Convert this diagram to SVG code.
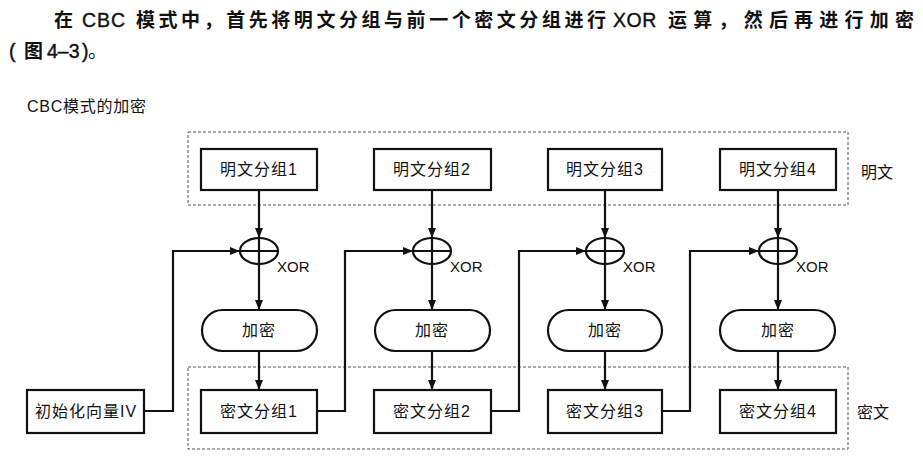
<svg xmlns="http://www.w3.org/2000/svg" width="923" height="462" viewBox="0 0 923 462">
<defs>
<style>
.t{font-family:"Liberation Sans","Noto Sans CJK SC",sans-serif;fill:#111}
.title{font-family:"Liberation Sans","Noto Sans CJK SC",sans-serif;font-size:19px;font-weight:bold;fill:#111}
.lat{font-weight:normal;font-size:19.5px;stroke:#111;stroke-width:0.4}
.box{fill:#fff;stroke:#111;stroke-width:2.2}
.lbl{font-family:"Liberation Sans","Noto Sans CJK SC",sans-serif;font-size:16px;fill:#111;text-anchor:middle;letter-spacing:1px}
.dash{fill:none;stroke:#555;stroke-width:1;stroke-dasharray:3 2}
.ln{fill:none;stroke:#111;stroke-width:2.2}
.xor{font-family:"Liberation Sans",sans-serif;font-size:15px;fill:#111}
</style>
<marker id="ah" viewBox="0 0 10 10" refX="10" refY="5" markerWidth="10" markerHeight="10" markerUnits="userSpaceOnUse" orient="auto">
<path d="M0,1 L10,5 L0,9 Z" fill="#111"/>
</marker>
</defs>
<rect width="923" height="462" fill="#fff"/>
<text class="title" y="27"><tspan x="54">在</tspan><tspan x="82" class="lat" letter-spacing="1">CBC</tspan><tspan x="136" textLength="470" lengthAdjust="spacing">模式中，首先将明文分组与前一个密文分组进行</tspan><tspan x="613" class="lat" letter-spacing="0.5">XOR</tspan><tspan x="668" textLength="246" lengthAdjust="spacing">运算，然后再进行加密</tspan></text>
<text class="title" y="58"><tspan x="9" class="lat">(</tspan><tspan x="24">图</tspan><tspan x="47" class="lat">4–3</tspan><tspan x="82" class="lat">)</tspan><tspan x="88" font-weight="normal">。</tspan></text>
<text class="t" x="27" y="112" font-size="16" textLength="119" lengthAdjust="spacing">CBC模式的加密</text>

<rect class="dash" x="188" y="132" width="660" height="73"/>
<rect class="dash" x="188" y="367" width="660" height="82"/>
<text class="t" x="861" y="178" font-size="16">明文</text>
<text class="t" x="857" y="418" font-size="16">密文</text>

<g id="connectors">
<line class="ln" x1="259" y1="190" x2="259" y2="238" marker-end="url(#ah)"/>
<line class="ln" x1="432" y1="190" x2="432" y2="238" marker-end="url(#ah)"/>
<line class="ln" x1="605" y1="190" x2="605" y2="238" marker-end="url(#ah)"/>
<line class="ln" x1="778" y1="190" x2="778" y2="238" marker-end="url(#ah)"/>
<line class="ln" x1="259" y1="264" x2="259" y2="310" marker-end="url(#ah)"/>
<line class="ln" x1="432" y1="264" x2="432" y2="310" marker-end="url(#ah)"/>
<line class="ln" x1="605" y1="264" x2="605" y2="310" marker-end="url(#ah)"/>
<line class="ln" x1="778" y1="264" x2="778" y2="310" marker-end="url(#ah)"/>
<line class="ln" x1="259" y1="351" x2="259" y2="390" marker-end="url(#ah)"/>
<line class="ln" x1="432" y1="351" x2="432" y2="390" marker-end="url(#ah)"/>
<line class="ln" x1="605" y1="351" x2="605" y2="390" marker-end="url(#ah)"/>
<line class="ln" x1="778" y1="351" x2="778" y2="390" marker-end="url(#ah)"/>
<polyline class="ln" points="144,411 173,411 173,251 240,251" marker-end="url(#ah)"/>
<polyline class="ln" points="317,411 345,411 345,251 413,251" marker-end="url(#ah)"/>
<polyline class="ln" points="491,411 519,411 519,251 586,251" marker-end="url(#ah)"/>
<polyline class="ln" points="662,411 690,411 690,251 759,251" marker-end="url(#ah)"/>
</g>

<g id="p1"><rect class="box" x="201" y="149" width="116" height="41"/><text class="lbl" x="259" y="175">明文分组1</text></g>
<g id="p2"><rect class="box" x="374" y="149" width="117" height="41"/><text class="lbl" x="432" y="175">明文分组2</text></g>
<g id="p3"><rect class="box" x="548" y="149" width="114" height="41"/><text class="lbl" x="605" y="175">明文分组3</text></g>
<g id="p4"><rect class="box" x="720" y="149" width="116" height="41"/><text class="lbl" x="778" y="175">明文分组4</text></g>

<g id="x1"><ellipse class="ln" cx="259" cy="251" rx="19" ry="13"/><line class="ln" x1="240" y1="251" x2="278" y2="251"/><line class="ln" x1="259" y1="238" x2="259" y2="264"/><text class="xor" x="277" y="272">XOR</text></g>
<g id="x2"><ellipse class="ln" cx="432" cy="251" rx="19" ry="13"/><line class="ln" x1="413" y1="251" x2="451" y2="251"/><line class="ln" x1="432" y1="238" x2="432" y2="264"/><text class="xor" x="450" y="272">XOR</text></g>
<g id="x3"><ellipse class="ln" cx="605" cy="251" rx="19" ry="13"/><line class="ln" x1="586" y1="251" x2="624" y2="251"/><line class="ln" x1="605" y1="238" x2="605" y2="264"/><text class="xor" x="623" y="272">XOR</text></g>
<g id="x4"><ellipse class="ln" cx="778" cy="251" rx="19" ry="13"/><line class="ln" x1="759" y1="251" x2="797" y2="251"/><line class="ln" x1="778" y1="238" x2="778" y2="264"/><text class="xor" x="796" y="272">XOR</text></g>

<g id="e1"><rect class="box" x="202" y="310" width="115" height="41" rx="20.5"/><text class="lbl" x="259" y="336">加密</text></g>
<g id="e2"><rect class="box" x="375" y="310" width="115" height="41" rx="20.5"/><text class="lbl" x="432" y="336">加密</text></g>
<g id="e3"><rect class="box" x="548" y="310" width="114" height="41" rx="20.5"/><text class="lbl" x="605" y="336">加密</text></g>
<g id="e4"><rect class="box" x="720" y="310" width="115" height="41" rx="20.5"/><text class="lbl" x="778" y="336">加密</text></g>

<g id="iv"><rect class="box" x="27" y="390" width="117" height="43"/><text class="lbl" x="86" y="417" letter-spacing="0.5">初始化向量IV</text></g>
<g id="c1"><rect class="box" x="201" y="390" width="116" height="43"/><text class="lbl" x="259" y="417">密文分组1</text></g>
<g id="c2"><rect class="box" x="374" y="390" width="117" height="43"/><text class="lbl" x="432" y="417">密文分组2</text></g>
<g id="c3"><rect class="box" x="548" y="390" width="114" height="43"/><text class="lbl" x="605" y="417">密文分组3</text></g>
<g id="c4"><rect class="box" x="720" y="390" width="116" height="43"/><text class="lbl" x="778" y="417">密文分组4</text></g>
</svg>
